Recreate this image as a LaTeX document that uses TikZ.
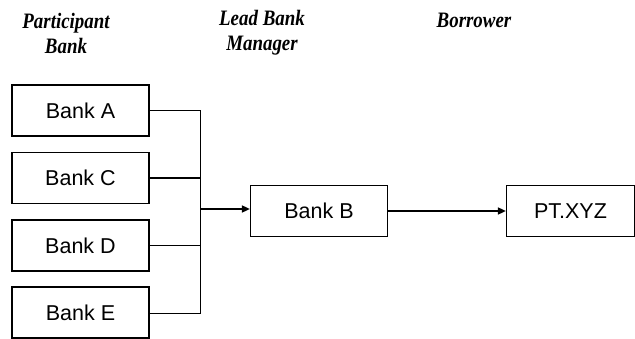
\documentclass[tikz,border=0pt]{standalone}
\usepackage{fontspec}
\setmainfont{Liberation Serif}
\setsansfont{Liberation Sans}
\usetikzlibrary{arrows.meta}
\begin{document}
\begin{tikzpicture}[x=1pt,y=-1pt,
  bankbox/.style={draw,line width=1.2pt,minimum width=137pt,minimum height=51pt,inner sep=0pt,font=\sffamily\fontsize{21.5}{21.5}\selectfont},
  header/.style={font=\bfseries\itshape\fontsize{22}{25}\selectfont,align=center,inner sep=0pt,xscale=0.86,transform shape},
  feed/.style={line width=0.8pt},
  flow/.style={line width=1.6pt,-{Triangle[length=8pt,width=7pt]}}]
\useasboundingbox (0,0) rectangle (635,339);
\node[header] (h1) at (66,33) {Participant\\Bank};
\node[header] (h2) at (262,33) {Lead Bank\\Manager};
\node[header] (h3) at (474,20) {Borrower};
\node[bankbox] (A) at (80.5,110.5) {Bank A};
\node[bankbox] (C) at (80.5,178) {Bank C};
\node[bankbox] (D) at (80.5,245.5) {Bank D};
\node[bankbox] (E) at (80.5,312.5) {Bank E};
\node[bankbox] (B) at (319,211) {Bank B};
\node[bankbox,minimum width=128pt] (P) at (570.5,211) {PT.XYZ};
\coordinate (top) at (200,110);
\coordinate (bot) at (200,313);
\coordinate (mid) at (200,209);
\draw[feed] (A.east |- top) -- (top) -- (bot) -- (E.east |- bot);
\draw[feed,line width=1.3pt] (C.east) -- (C.east -| top);
\draw[feed] (D.east) -- (D.east -| top);
\draw[flow] (mid) -- (B.west |- mid);
\draw[flow] (B.east) -- (P.west);
\end{tikzpicture}
\end{document}
